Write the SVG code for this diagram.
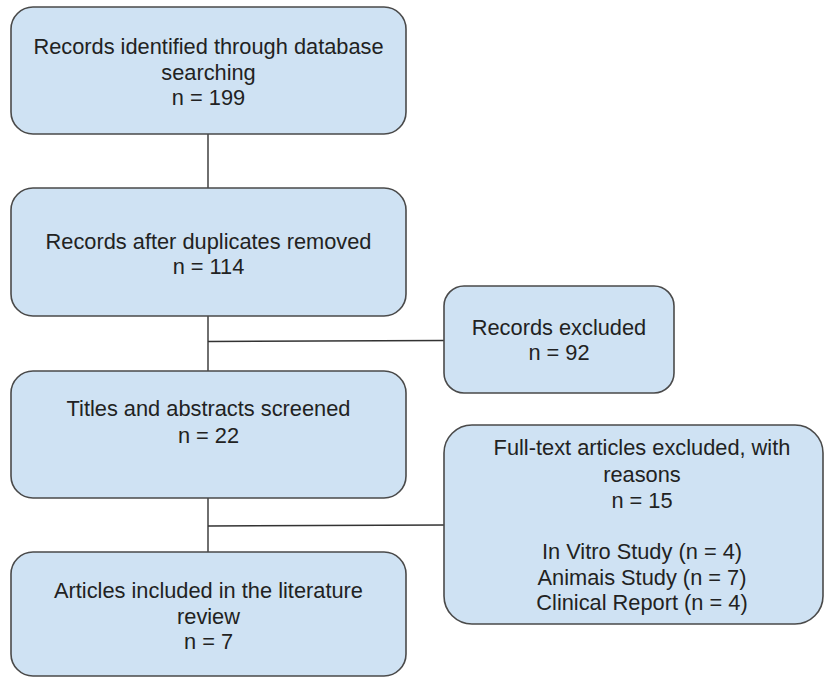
<svg xmlns="http://www.w3.org/2000/svg" width="826" height="677" viewBox="0 0 826 677">
<style>
.box{fill:#cfe2f3;stroke:#4a4a4a;stroke-width:1.6}
.t{font-family:"Liberation Sans",Arial,sans-serif;font-size:21.8px;fill:#222;text-anchor:middle}
.c{stroke:#333;stroke-width:1.4;fill:none}
</style>
<rect width="826" height="677" fill="#ffffff"/>
<g id="connectors">
<line class="c" x1="208" y1="134" x2="208" y2="188"/>
<line class="c" x1="208" y1="316" x2="208" y2="371"/>
<line class="c" x1="208" y1="498" x2="208" y2="552"/>
<line class="c" x1="208" y1="341.5" x2="444" y2="340.5"/>
<line class="c" x1="208" y1="526" x2="444" y2="525"/>
</g>
<g id="n1">
<rect class="box" x="11" y="7" width="395" height="127" rx="22"/>
<text class="t" x="208.5" y="54">Records identified through database</text>
<text class="t" x="208.5" y="80">searching</text>
<text class="t" x="208.5" y="105">n = 199</text>
</g>
<g id="n2">
<rect class="box" x="11" y="188" width="395" height="128" rx="22"/>
<text class="t" x="208.5" y="248.5">Records after duplicates removed</text>
<text class="t" x="208.5" y="273.5">n = 114</text>
</g>
<g id="n3">
<rect class="box" x="11" y="371" width="395" height="127" rx="22"/>
<text class="t" x="208.5" y="416">Titles and abstracts screened</text>
<text class="t" x="208.5" y="443">n = 22</text>
</g>
<g id="n4">
<rect class="box" x="11" y="552" width="395" height="124" rx="22"/>
<text class="t" x="208.5" y="598">Articles included in the literature</text>
<text class="t" x="208.5" y="623.5">review</text>
<text class="t" x="208.5" y="649">n = 7</text>
</g>
<g id="n5">
<rect class="box" x="444" y="286" width="230" height="107" rx="20"/>
<text class="t" x="559" y="334.5">Records excluded</text>
<text class="t" x="559" y="360">n = 92</text>
</g>
<g id="n6">
<rect class="box" x="444" y="425" width="379" height="199" rx="28"/>
<text class="t" x="642" y="454.5">Full-text articles excluded, with</text>
<text class="t" x="642" y="481.5">reasons</text>
<text class="t" x="642" y="507.5">n = 15</text>
<text class="t" x="642" y="559">In Vitro Study (n = 4)</text>
<text class="t" x="642" y="584.5">Animais Study (n = 7)</text>
<text class="t" x="642" y="610">Clinical Report (n = 4)</text>
</g>
</svg>
